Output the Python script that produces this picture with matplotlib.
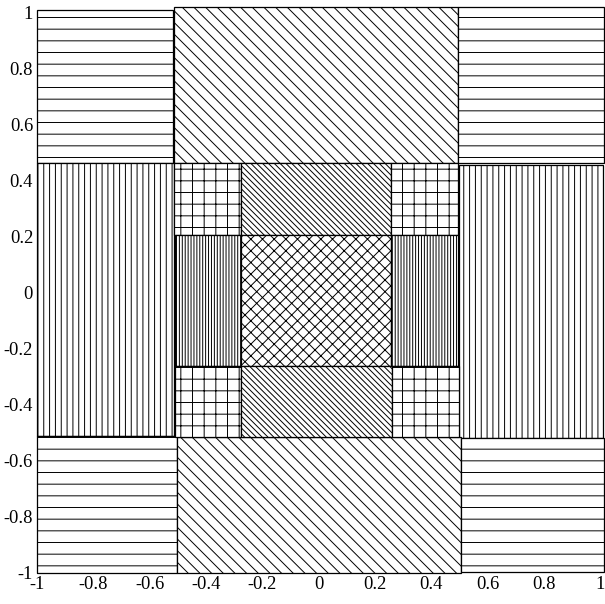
import matplotlib
matplotlib.use("Agg")
import matplotlib.pyplot as plt
from matplotlib.patches import Rectangle
from matplotlib.ticker import FixedLocator, FuncFormatter

# rectangle extents: left, right, bottom, top
x_left = [-1.0, -0.513, 0.497, -1.0, 0.499, -1.0, -0.504, 0.506,
          -0.513, -0.274, 0.256, -0.51, -0.274, 0.256, -0.51, -0.274, 0.26]
x_right = [-0.516, 0.497, 1.013, -0.513, 1.01, -0.504, 0.506, 1.013,
           -0.274, 0.256, 0.497, -0.274, 0.256, 0.497, -0.274, 0.26, 0.5]
y_bottom = [0.464, 0.464, 0.461, -0.511, -0.519, -1.003, -1.0, -0.997,
            0.205, 0.205, 0.205, -0.261, -0.261, -0.261, -0.516, -0.516, -0.516]
y_top = [1.009, 1.02, 1.018, 0.464, 0.455, -0.513, -0.515, -0.519,
         0.462, 0.462, 0.462, 0.205, 0.205, 0.205, -0.261, -0.261, -0.261]
hatches = ["-", "\\" * 2, "-", "||", "||", "-", "\\" * 2, "-",
           "+", "\\" * 4, "+", "||||", "xx", "||||", "+", "\\" * 4, "+"]

ticks = [-1, -0.8, -0.6, -0.4, -0.2, 0, 0.2, 0.4, 0.6, 0.8, 1]

plt.rcParams["font.family"] = ["Liberation Serif", "DejaVu Serif"]
plt.rcParams["hatch.linewidth"] = 1.0
plt.rcParams["hatch.color"] = "black"

DPI = 70
fig = plt.figure(figsize=(605 / DPI, 604 / DPI), dpi=DPI)
ax = fig.add_axes([37 / 605, 31.5 / 604, 563 / 605, 560 / 604])

for x0, x1, y0, y1, h in zip(x_left, x_right, y_bottom, y_top, hatches):
    ax.add_patch(Rectangle((x0, y0), x1 - x0, y1 - y0, facecolor="white",
                           edgecolor="black", linewidth=1.3, hatch=h,
                           clip_on=False))

ax.set_xlim(-1, 1)
ax.set_ylim(-1, 1)
ax.xaxis.set_major_locator(FixedLocator(ticks))
ax.yaxis.set_major_locator(FixedLocator(ticks))
fmt = FuncFormatter(lambda v, p: ("%g" % v).replace("\u2212", "-"))
ax.xaxis.set_major_formatter(fmt)
ax.yaxis.set_major_formatter(fmt)
ax.tick_params(length=0, labelsize=19, pad=4)
for side in ["top", "right", "bottom"]:
    ax.spines[side].set_visible(False)
ax.spines["left"].set_linewidth(1.0)

fig.savefig("out.png", dpi=DPI)
